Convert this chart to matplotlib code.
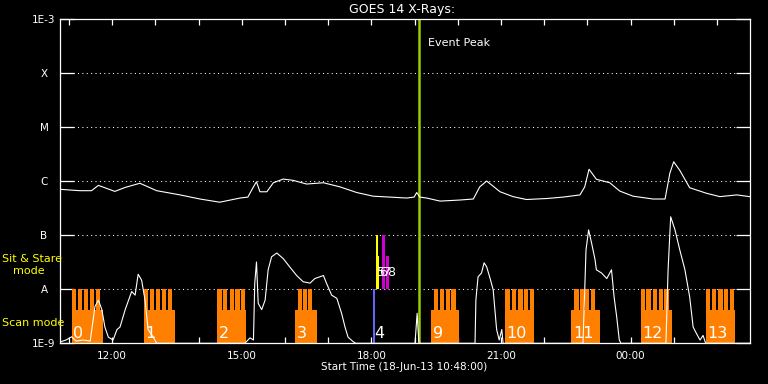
import matplotlib
matplotlib.use("Agg")
import matplotlib.pyplot as plt
from matplotlib.ticker import NullLocator, FixedLocator

# ---------------- data ----------------
# GOES long channel (1-8 A): clock hours (past 24 = next day) and flux W/m^2
long_t = [10.80, 11.25, 11.52, 11.68, 12.06, 12.30, 12.64, 13.03, 13.57, 14.03,
          14.49, 14.96, 15.14, 15.27, 15.34, 15.42, 15.58, 15.73, 15.96, 16.19,
          16.50, 16.89, 17.27, 17.66, 18.04, 18.43, 18.82, 18.99, 19.05, 19.12,
          19.28, 19.59, 20.05, 20.36, 20.51, 20.67, 20.98, 21.28, 21.59, 22.06,
          22.44, 22.83, 22.94, 23.04, 23.21, 23.52, 23.75, 24.06, 24.52, 24.80,
          24.91, 25.00, 25.14, 25.37, 25.76, 26.07, 26.46, 26.76]
long_flux = [7.1e-7, 6.7e-7, 6.7e-7, 8.4e-7, 6.5e-7, 7.7e-7, 9.2e-7, 6.7e-7, 5.6e-7, 4.7e-7,
             4.1e-7, 4.9e-7, 5.1e-7, 7.9e-7, 9.8e-7, 6.4e-7, 6.4e-7, 9.4e-7, 1.10e-6, 1.04e-6,
             8.9e-7, 9.4e-7, 7.9e-7, 6.2e-7, 5.3e-7, 5.1e-7, 4.9e-7, 5.1e-7, 6.2e-7, 5.1e-7,
             4.9e-7, 4.3e-7, 4.5e-7, 4.7e-7, 7.9e-7, 1.01e-6, 6.4e-7, 5.2e-7, 4.6e-7, 4.8e-7,
             5.1e-7, 5.6e-7, 7.9e-7, 1.67e-6, 1.09e-6, 9.4e-7, 6.6e-7, 5.3e-7, 4.7e-7, 4.7e-7,
             1.4e-6, 2.3e-6, 1.6e-6, 7.6e-7, 6.0e-7, 5.2e-7, 5.6e-7, 5.2e-7]

# GOES short channel (0.5-4 A)
short_t = [10.81, 10.93, 11.06, 11.16, 11.33, 11.49, 11.60, 11.68, 11.76, 11.83,
           11.91, 12.02, 12.11, 12.18, 12.30, 12.45, 12.53, 12.60, 12.68, 12.76,
           12.83, 12.95, 13.03, 15.07, 15.19, 15.27, 15.30, 15.34, 15.38, 15.46,
           15.54, 15.61, 15.69, 15.81, 15.96, 16.11, 16.27, 16.42, 16.58, 16.69,
           16.89, 16.96, 17.08, 17.20, 17.31, 17.39, 17.46, 17.58, 17.64, 19.01,
           19.06, 19.10, 20.40, 20.42, 20.47, 20.55, 20.61, 20.67, 20.75, 20.82,
           20.86, 20.90, 20.96, 21.02, 21.05, 22.90, 22.97, 23.03, 23.10, 23.18,
           23.21, 23.33, 23.45, 23.56, 23.62, 23.68, 23.74, 23.78, 24.82, 24.87,
           24.93, 25.03, 25.14, 25.26, 25.37, 25.45, 25.53, 25.61, 25.68, 25.74,
           26.76]
short_flux = [1.07e-9, 1.15e-9, 1.32e-9, 1.1e-9, 1.15e-9, 1.1e-9, 4.8e-9, 6.3e-9, 4.2e-9, 2.0e-9,
              1.3e-9, 1.15e-9, 1.8e-9, 2.0e-9, 4.2e-9, 9.1e-9, 7.8e-9, 1.9e-8, 1.48e-8, 6.3e-9,
              1.8e-9, 1.3e-9, 1.0e-9, 1.0e-9, 1.26e-9, 1.15e-9, 1.3e-8, 3.2e-8, 5.5e-9, 4.2e-9,
              6.3e-9, 2.3e-8, 4.0e-8, 4.7e-8, 3.7e-8, 2.6e-8, 1.8e-8, 1.38e-8, 1.3e-8, 1.58e-8,
              1.8e-8, 1.3e-8, 7.8e-9, 6.8e-9, 3.6e-9, 2.0e-9, 1.3e-9, 1.07e-9, 1.0e-9, 1.0e-9,
              3.6e-9, 1.0e-9, 1.0e-9, 6.3e-9, 1.7e-8, 2.0e-8, 3.1e-8, 2.6e-8, 1.58e-8, 9.8e-9,
              4.2e-9, 1.8e-9, 1.15e-9, 1.8e-9, 1.0e-9, 1.0e-9, 5.4e-8, 1.26e-7, 7.1e-8, 3.5e-8,
              2.3e-8, 2.0e-8, 1.58e-8, 2.3e-8, 7.2e-9, 3.1e-9, 1.15e-9, 1.0e-9, 1.0e-9, 2.3e-8,
              2.2e-7, 1.26e-7, 5.4e-8, 2.3e-8, 7.2e-9, 2.0e-9, 1.5e-9, 1.15e-9, 1.4e-9, 1.0e-9,
              1.0e-9]

# Scan-mode observation groups
scan_labels = ["0", "1", "2", "3", "9", "10", "11", "12", "13"]
scan_start = ["11:04", "12:44", "14:26", "16:14", "19:23", "21:06", "22:38", "00:14", "01:45"]
scan_end = ["11:47", "13:27", "15:06", "16:44", "20:02", "21:46", "23:18", "00:57", "02:25"]
# raster start times (minutes after the group start)
scan_rasters = [[0, 8, 17, 25, 33], [0, 8, 17, 25, 33], [0, 8, 17, 25, 33],
                [4, 11, 18], [4, 12, 20, 28], [0, 9, 18, 26, 34], [4, 12, 19, 27],
                [0, 8, 17, 25, 33], [0, 8, 17, 25, 33]]
raster_minutes = 6.0
scan_level = 4.1e-9
raster_level = 1.0e-8

# Single observation "4"
obs4_label = "4"
obs4_start = "18:02:36"
obs4_minutes = 3.0
obs4_top = 1.0e-8

# Sit & stare observations
sit_labels = ["5", "6", "7", "8"]
sit_start = ["18:06:24", "18:09:12", "18:14:42", "18:20:18"]
sit_minutes = [2.8, 1.4, 3.7, 4.2]
sit_top = [1.0e-7, 4.1e-8, 1.0e-7, 4.1e-8]
sit_colors = ["#ffff00", "#ffff00", "#d000d0", "#d000d0"]

event_peak = "19:06"

ytick_vals = [1e-9, 1e-8, 1e-7, 1e-6, 1e-5, 1e-4, 1e-3]
ytick_labels = ["1E-9", "A", "B", "C", "M", "X", "1E-3"]
xtick_major = [12, 15, 18, 21, 24]
xtick_labels = ["12:00", "15:00", "18:00", "21:00", "00:00"]
xtick_minor = [11, 13, 14, 16, 17, 19, 20, 22, 23, 25, 26]
x_range = ["10:48", "02:46"]


def hours(s):
    p = [float(v) for v in s.split(":")]
    h = p[0] + p[1] / 60.0 + (p[2] / 3600.0 if len(p) > 2 else 0.0)
    if h < 10:
        h += 24
    return h


# ---------------- figure ----------------
fig = plt.figure(figsize=(7.68, 3.84), dpi=100, facecolor="black")
W, H = 768.0, 384.0
ax = fig.add_axes([60.4 / W, 1 - 343.3 / H, (750 - 60.4) / W, (343.3 - 19.3) / H])
ax.set_facecolor("black")
ax.set_yscale("log")
ax.set_ylim(1e-9, 1e-3)
ax.set_xlim(hours(x_range[0]), hours(x_range[1]))

# grid
for v in ytick_vals[1:-1]:
    ax.axhline(v, color="white", lw=0.75, linestyle=(0, (1.0, 3.2)), zorder=0.5)

# scan groups
for lab, s, e, rast in zip(scan_labels, scan_start, scan_end, scan_rasters):
    hs, he = hours(s), hours(e)
    ax.bar(hs, scan_level - 1e-9, width=he - hs, bottom=1e-9, align="edge",
           color="#ff8000", linewidth=0, zorder=2)
    for r in rast:
        ax.bar(hs + r / 60.0, raster_level - 1e-9, width=raster_minutes / 60.0, bottom=1e-9,
               align="edge", color="#ff8000", linewidth=0, zorder=2)
    ax.annotate(lab, xy=(hs, 0), xycoords=("data", "axes fraction"), xytext=(1.0, 7.4),
                textcoords="offset points", ha="left", va="center", color="white",
                fontsize=11.5, zorder=6)

# observation 4
h4 = hours(obs4_start)
ax.bar(h4, obs4_top - 1e-9, width=obs4_minutes / 60.0, bottom=1e-9, align="edge",
       color="#6464ff", linewidth=0, zorder=2)
ax.annotate(obs4_label, xy=(h4, 0), xycoords=("data", "axes fraction"), xytext=(0.8, 7.4),
            textcoords="offset points", ha="left", va="center", color="white",
            fontsize=11.5, zorder=6)

# sit & stare
for lab, s, m, top, c in zip(sit_labels, sit_start, sit_minutes, sit_top, sit_colors):
    hs = hours(s)
    ax.bar(hs, top - 1e-8, width=m / 60.0, bottom=1e-8, align="edge",
           color=c, linewidth=0, zorder=2)
    ax.annotate(lab, xy=(hs, 0), xycoords=("data", "axes fraction"), xytext=(0.5, 51.3),
                textcoords="offset points", ha="left", va="center", color="white",
                fontsize=9, zorder=6)

# event peak
hp = hours(event_peak)
ax.axvline(hp, color="#99cc00", lw=1.8, zorder=3)
ax.annotate("Event Peak", xy=(hp, 1), xycoords=("data", "axes fraction"), xytext=(6.7, -17.1),
            textcoords="offset points", ha="left", va="center", color="white", fontsize=8)

# curves
ax.plot(long_t, long_flux, color="white", lw=0.8, zorder=4)
ax.plot(short_t, short_flux, color="white", lw=0.8, zorder=4)

# axes styling
for sp in ax.spines.values():
    sp.set_color("white")
    sp.set_linewidth(0.9)
    sp.set_zorder(5)

ax.yaxis.set_minor_locator(NullLocator())
ax.set_yticks(ytick_vals, ytick_labels, ha="center")
ax.tick_params(axis="y", which="major", direction="in", length=10.2, width=0.9,
               colors="white", left=True, right=True, labelsize=7.5, pad=11.8)
ax.set_xticks(xtick_major, xtick_labels)
ax.xaxis.set_minor_locator(FixedLocator(xtick_minor))
ax.tick_params(axis="x", which="both", direction="in", length=4.3, width=0.9,
               colors="white", top=True, bottom=True, labelsize=7.5, pad=5.5)

# texts
fig.text(402 / W, 1 - 9.5 / H, "GOES 14 X-Rays:", color="white", fontsize=9,
         ha="center", va="center")
fig.text(404 / W, 1 - 367.5 / H, "Start Time (18-Jun-13 10:48:00)", color="white",
         fontsize=7.5, ha="center", va="center")
fig.text(2 / W, 1 - 258.7 / H, "Sit & Stare", color="#ffff00", fontsize=8,
         ha="left", va="center")
fig.text(12.7 / W, 1 - 271 / H, "mode", color="#ffff00", fontsize=8,
         ha="left", va="center")
fig.text(1.7 / W, 1 - 323 / H, "Scan mode", color="#ffff00", fontsize=8,
         ha="left", va="center")

fig.savefig("out.png", dpi=100, facecolor="black")
